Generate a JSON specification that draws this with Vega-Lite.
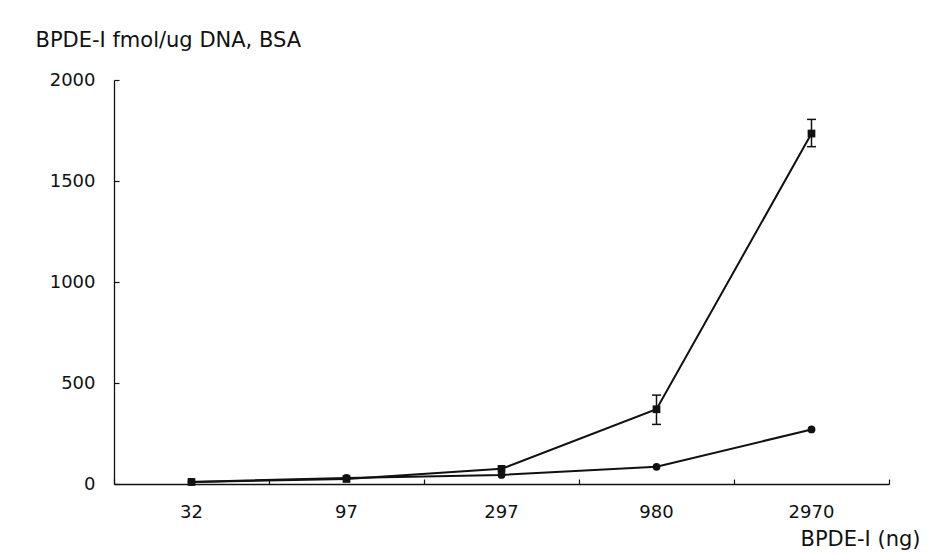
{
  "$schema": "https://vega.github.io/schema/vega-lite/v6.json",
  "autosize": {"type": "none"},
  "padding": {"left": 114, "top": 80, "right": 57, "bottom": 70},
  "width": 775,
  "height": 404,
  "background": "white",
  "config": {
    "view": {"stroke": null},
    "font": "DejaVu Sans",
    "axis": {
      "domainColor": "#111",
      "domainWidth": 1.3,
      "tickColor": "#111",
      "tickWidth": 1.2,
      "labelColor": "#111",
      "titleColor": "#111",
      "labelFont": "DejaVu Sans",
      "titleFont": "DejaVu Sans",
      "labelFontSize": 18,
      "titleFontSize": 21,
      "titleFontWeight": "normal",
      "grid": false
    }
  },
  "data": {
    "values": [
      {"dose": "32", "series": "A", "value": 10},
      {"dose": "97", "series": "A", "value": 25},
      {"dose": "297", "series": "A", "value": 75},
      {"dose": "980", "series": "A", "value": 370, "lo": 295, "hi": 440},
      {"dose": "2970", "series": "A", "value": 1735, "lo": 1670, "hi": 1805},
      {"dose": "32", "series": "B", "value": 10},
      {"dose": "97", "series": "B", "value": 30},
      {"dose": "297", "series": "B", "value": 45},
      {"dose": "980", "series": "B", "value": 85},
      {"dose": "2970", "series": "B", "value": 270}
    ]
  },
  "encoding": {
    "x": {
      "field": "dose",
      "type": "ordinal",
      "sort": null,
      "bandPosition": 0.5,
      "scale": {"type": "band", "paddingInner": 0, "paddingOuter": 0, "domain": ["32", "97", "297", "980", "2970"]}
    }
  },
  "resolve": {"axis": {"x": "independent", "y": "independent"}},
  "layer": [
    {
      "mark": {"type": "line", "color": "#111", "strokeWidth": 2},
      "encoding": {
        "x": {
          "field": "dose",
          "type": "ordinal",
          "sort": null,
          "bandPosition": 0.5,
          "axis": {
            "title": "BPDE-I (ng)",
            "labelAngle": 0,
            "ticks": false,
            "labelPadding": 19,
            "titleX": 806,
            "titleY": 55,
            "titleAlign": "right",
            "titleBaseline": "middle"
          }
        },
        "y": {
          "field": "value",
          "type": "quantitative",
          "scale": {"domain": [0, 2000], "nice": false},
          "axis": {
            "title": "BPDE-I fmol/ug DNA, BSA",
            "values": [0, 500, 1000, 1500, 2000],
            "format": "d",
            "ticks": false,
            "labelPadding": 19,
            "titleAngle": 0,
            "titleAlign": "left",
            "titleBaseline": "middle",
            "titleX": -79,
            "titleY": -40
          }
        },
        "detail": {"field": "series"}
      }
    },
    {
      "mark": {"type": "point", "filled": true, "color": "#111", "opacity": 1, "size": 60},
      "encoding": {
        "x": {
          "field": "dose",
          "type": "ordinal",
          "sort": null,
          "bandPosition": 0.5,
          "axis": {
            "orient": "bottom",
            "offset": -5,
            "tickBand": "extent",
            "tickSize": 5,
            "labels": false,
            "domain": false,
            "title": null
          }
        },
        "y": {
          "field": "value",
          "type": "quantitative",
          "axis": {
            "orient": "left",
            "offset": -5,
            "values": [0, 500, 1000, 1500, 2000],
            "tickSize": 5,
            "labels": false,
            "domain": false,
            "title": null
          }
        },
        "shape": {
          "field": "series",
          "type": "nominal",
          "scale": {"domain": ["A", "B"], "range": ["square", "circle"]},
          "legend": null
        }
      }
    },
    {
      "transform": [{"filter": "datum.lo != null"}],
      "mark": {"type": "rule", "color": "#111", "strokeWidth": 1.5},
      "encoding": {
        "y": {"field": "lo", "type": "quantitative", "axis": null},
        "y2": {"field": "hi"},
        "x": {"field": "dose", "type": "ordinal", "sort": null, "bandPosition": 0.5, "axis": null}
      }
    },
    {
      "transform": [{"filter": "datum.lo != null"}],
      "mark": {"type": "tick", "color": "#111", "thickness": 1.5, "size": 9, "orient": "horizontal", "opacity": 1},
      "encoding": {
        "y": {"field": "lo", "type": "quantitative", "axis": null},
        "x": {"field": "dose", "type": "ordinal", "sort": null, "bandPosition": 0.5, "axis": null}
      }
    },
    {
      "transform": [{"filter": "datum.lo != null"}],
      "mark": {"type": "tick", "color": "#111", "thickness": 1.5, "size": 9, "orient": "horizontal", "opacity": 1},
      "encoding": {
        "y": {"field": "hi", "type": "quantitative", "axis": null},
        "x": {"field": "dose", "type": "ordinal", "sort": null, "bandPosition": 0.5, "axis": null}
      }
    }
  ]
}
